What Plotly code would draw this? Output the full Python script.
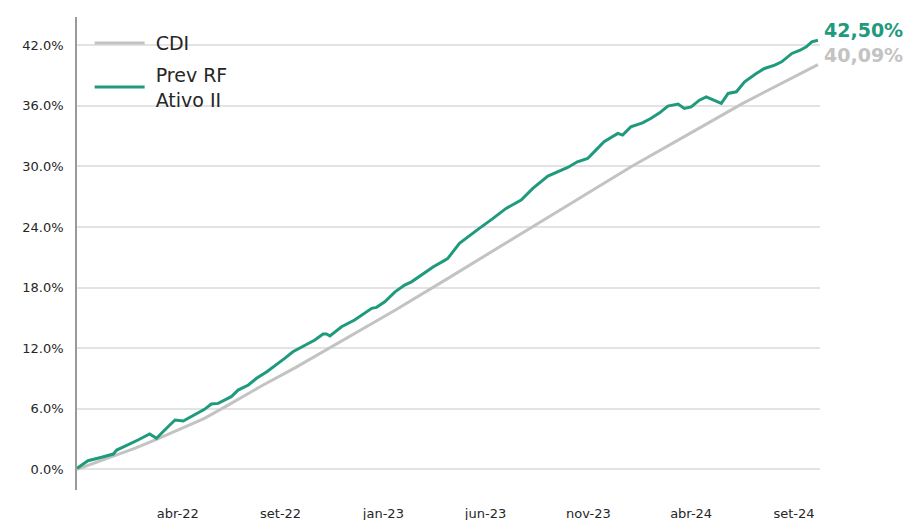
import plotly.graph_objects as go

# ---- data ----
cdi_dates = ["2021-11-09", "2021-12-06", "2022-01-03", "2022-02-02", "2022-03-05", "2022-04-08",
             "2022-05-14", "2022-06-20", "2022-08-05", "2022-09-23", "2022-11-03", "2022-12-19",
             "2023-02-16", "2023-04-30", "2023-07-21", "2023-10-21", "2024-01-27", "2024-04-13",
             "2024-07-06", "2024-10-25"]
cdi_values = [0.00, 0.65, 1.35, 2.10, 2.97, 3.95,
              5.05, 6.45, 8.25, 10.05, 11.64, 13.45,
              15.75, 18.74, 22.15, 26.00, 30.00, 32.95,
              36.20, 40.09]

fund_dates = ["2021-11-09", "2021-11-25", "2021-12-15", "2022-01-01", "2022-01-06", "2022-01-23",
              "2022-02-06", "2022-02-23", "2022-03-05", "2022-03-17", "2022-04-01", "2022-04-13",
              "2022-04-28", "2022-05-14", "2022-05-24", "2022-06-03", "2022-06-22", "2022-07-02",
              "2022-07-17", "2022-07-29", "2022-08-13", "2022-08-27", "2022-09-08", "2022-09-20",
              "2022-10-08", "2022-10-22", "2022-11-03", "2022-11-08", "2022-11-13", "2022-11-30",
              "2022-12-19", "2023-01-13", "2023-01-20", "2023-02-01", "2023-02-16", "2023-03-02",
              "2023-03-12", "2023-03-27", "2023-04-13", "2023-04-30", "2023-05-04", "2023-05-21",
              "2023-06-02", "2023-06-17", "2023-07-09", "2023-07-28", "2023-08-19", "2023-09-05",
              "2023-09-27", "2023-10-06", "2023-10-21", "2023-10-26", "2023-11-09", "2023-11-24",
              "2023-12-06", "2023-12-18", "2024-01-07", "2024-01-14", "2024-01-26", "2024-02-12",
              "2024-02-24", "2024-03-08", "2024-03-20", "2024-04-04", "2024-04-13", "2024-04-23",
              "2024-05-05", "2024-05-15", "2024-06-06", "2024-06-16", "2024-06-28", "2024-07-10",
              "2024-07-27", "2024-08-08", "2024-08-23", "2024-09-02", "2024-09-17", "2024-09-29",
              "2024-10-08", "2024-10-16", "2024-10-25"]
fund_values = [0.10, 0.85, 1.19, 1.51, 1.91, 2.41,
               2.90, 3.50, 3.07, 3.89, 4.88, 4.78,
               5.38, 5.94, 6.47, 6.53, 7.19, 7.85,
               8.35, 9.01, 9.66, 10.33, 10.99, 11.64,
               12.31, 12.80, 13.40, 13.40, 13.20, 14.12,
               14.78, 15.94, 16.04, 16.59, 17.58, 18.25,
               18.57, 19.24, 20.06, 20.72, 20.89, 22.38,
               23.03, 23.76, 24.85, 25.84, 26.66, 27.82,
               29.04, 29.31, 29.70, 29.90, 30.46, 30.79,
               31.61, 32.44, 33.27, 33.10, 33.92, 34.32,
               34.75, 35.31, 35.97, 36.17, 35.74, 35.90,
               36.56, 36.89, 36.24, 37.23, 37.39, 38.38,
               39.21, 39.70, 40.03, 40.36, 41.19, 41.51,
               41.84, 42.34, 42.50]

x_tick_dates = ["2022-04-05", "2022-09-02", "2023-01-30", "2023-06-28",
                "2023-11-25", "2024-04-23", "2024-09-20"]
x_tick_labels = ["abr-22", "set-22", "jan-23", "jun-23", "nov-23", "abr-24", "set-24"]
y_ticks = [0, 6, 12, 18, 24, 30, 36, 42]
y_tick_labels = ["0.0%", "6.0%", "12.0%", "18.0%", "24.0%", "30.0%", "36.0%", "42.0%"]

series_names = ["\u00a0CDI", "\u00a0Prev RF<br>\u00a0Ativo II"]
end_labels = ["40,09%", "42,50%"]

GREEN = "#1f9a7c"
GRAY = "#c3c3c3"
FONT = "DejaVu Sans"

fig = go.Figure()
fig.add_trace(go.Scatter(x=cdi_dates, y=cdi_values, mode="lines", name=series_names[0],
                         legendgroup="a", line=dict(color=GRAY, width=3)))
fig.add_trace(go.Scatter(x=fund_dates, y=fund_values, mode="lines", name=series_names[1],
                         legendgroup="b", line=dict(color=GREEN, width=3)))

fig.add_annotation(x=fund_dates[-1], y=fund_values[-1], text="<b>" + end_labels[1] + "</b>",
                   showarrow=False, xanchor="left", yanchor="middle", xshift=4, yshift=10,
                   font=dict(family=FONT, size=19, color=GREEN))
fig.add_annotation(x=cdi_dates[-1], y=cdi_values[-1], text="<b>" + end_labels[0] + "</b>",
                   showarrow=False, xanchor="left", yanchor="middle", xshift=4, yshift=10,
                   font=dict(family=FONT, size=19, color=GRAY))

fig.update_layout(
    width=918, height=520,
    margin=dict(l=77, r=98, t=17, b=30, autoexpand=False),
    paper_bgcolor="white", plot_bgcolor="white",
    font=dict(family=FONT, size=13, color="#262626"),
    showlegend=True,
    legend=dict(x=0.017, y=0.985, xanchor="left", yanchor="top",
                font=dict(family=FONT, size=19, color="#262626"),
                bgcolor="rgba(0,0,0,0)", itemwidth=50,
                traceorder="grouped", tracegroupgap=4),
    xaxis=dict(type="date", range=["2021-11-09", "2024-10-28"], automargin=False,
               tickvals=x_tick_dates, ticktext=x_tick_labels,
               showgrid=False, zeroline=False, showline=False,
               ticks="outside", ticklen=11, tickcolor="rgba(0,0,0,0)",
               tickfont=dict(family=FONT, size=13, color="#262626")),
    yaxis=dict(range=[-2.05, 44.8], tickvals=y_ticks, ticktext=y_tick_labels, automargin=False,
               showgrid=True, gridcolor="#e3e3e3", gridwidth=2,
               zeroline=False, showline=True, linecolor="#9a9a9a", linewidth=1.5,
               ticks="outside", ticklen=9, tickcolor="rgba(0,0,0,0)",
               tickfont=dict(family=FONT, size=13, color="#262626")),
)

fig.write_html("out.html", config={"displayModeBar": False},
               post_script="document.body.style.margin='0';")
